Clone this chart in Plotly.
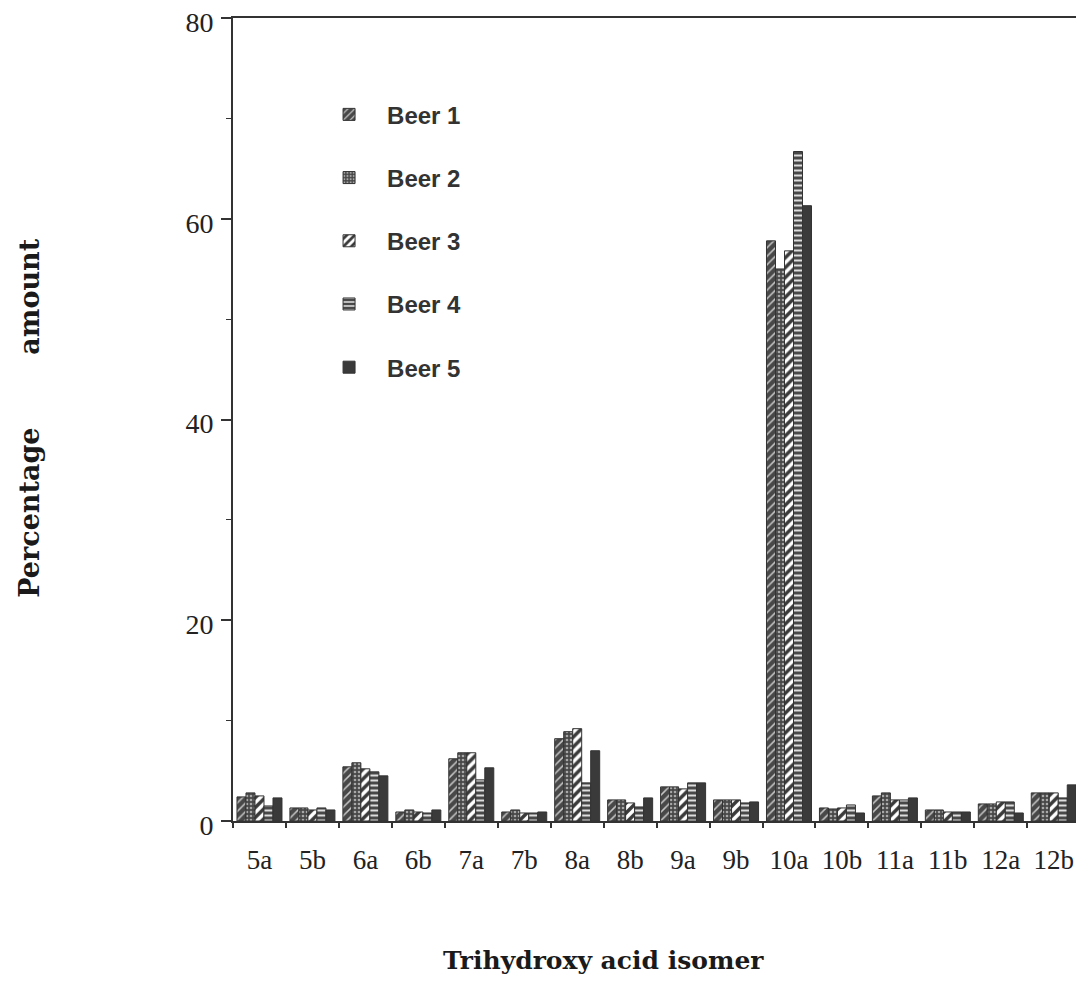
import plotly.graph_objects as go

categories = ["5a", "5b", "6a", "6b", "7a", "7b", "8a", "8b", "9a", "9b",
              "10a", "10b", "11a", "11b", "12a", "12b"]
series_names = ["Beer 1", "Beer 2", "Beer 3", "Beer 4", "Beer 5"]
beer1 = [2.4, 1.3, 5.4, 0.9, 6.2, 0.9, 8.2, 2.1, 3.4, 2.1, 57.8, 1.3, 2.5, 1.1, 1.7, 2.8]
beer2 = [2.8, 1.3, 5.8, 1.1, 6.8, 1.1, 8.9, 2.1, 3.4, 2.1, 55.0, 1.2, 2.8, 1.1, 1.7, 2.8]
beer3 = [2.5, 1.1, 5.2, 0.9, 6.8, 0.8, 9.2, 1.8, 3.2, 2.1, 56.8, 1.3, 2.1, 0.9, 1.9, 2.8]
beer4 = [1.5, 1.3, 4.9, 0.8, 4.1, 0.8, 3.8, 1.4, 3.8, 1.8, 66.7, 1.6, 2.1, 0.9, 1.9, 2.3]
beer5 = [2.3, 1.1, 4.5, 1.1, 5.3, 0.9, 7.0, 2.3, 3.8, 1.9, 61.3, 0.8, 2.3, 0.9, 0.8, 3.6]
series_values = [beer1, beer2, beer3, beer4, beer5]
y_ticks = [0, 20, 40, 60, 80]

patterns = [
    dict(shape="/", fgcolor="#c8c8c8", bgcolor="#484848", size=6, solidity=0.25, fillmode="replace"),
    dict(shape=".", fgcolor="#a8a8a8", bgcolor="#484848", size=4, solidity=0.35, fillmode="replace"),
    dict(shape="/", fgcolor="#3a3a3a", bgcolor="#ffffff", size=7, solidity=0.5, fillmode="replace"),
    dict(shape="-", fgcolor="#dddddd", bgcolor="#484848", size=5, solidity=0.4, fillmode="replace"),
    dict(shape="", fgcolor="#3a3a3a", bgcolor="#3a3a3a", size=5, solidity=0.5, fillmode="replace"),
]

fig = go.Figure()
for i, (name, vals) in enumerate(zip(series_names, series_values)):
    fig.add_trace(go.Bar(
        x=categories, y=vals, name=name, legendgroup=name,
        marker=dict(color="#3a3a3a", pattern=patterns[i],
                    line=dict(color="#333333", width=1)),
    ))

fig.update_layout(
    width=1076, height=986,
    paper_bgcolor="white", plot_bgcolor="white",
    margin=dict(l=233, r=0, t=18, b=165, autoexpand=False),
    barmode="group", bargap=0.15, bargroupgap=0,
    font=dict(family="Liberation Serif", color="#222222"),
    showlegend=True,
    legend=dict(x=0.0926, y=0.9075, xanchor="left", yanchor="top",
                font=dict(family="Liberation Sans", size=24, color="#333333", weight="bold"),
                tracegroupgap=29, itemwidth=66, bgcolor="rgba(0,0,0,0)"),
    xaxis=dict(type="category", range=[-0.5, 15.42], automargin=False,
               showline=True, linecolor="#333333", linewidth=2, mirror=True,
               ticks="outside", tickson="boundaries", ticklen=5, tickwidth=2, tickcolor="#333333",
               showgrid=False, zeroline=False, ticklabeloverflow="allow",
               tickfont=dict(family="Liberation Serif", size=27, color="#222222"),
               ticklabelstandoff=14),
    yaxis=dict(range=[0, 80], tickvals=y_ticks, automargin=False,
               showline=True, linecolor="#333333", linewidth=2,
               ticks="outside", ticklen=10, tickwidth=2, tickcolor="#333333",
               minor=dict(dtick=10, ticks="outside", ticklen=5, tickwidth=1, tickcolor="#333333"),
               showgrid=False, zeroline=False, ticklabeloverflow="allow",
               tickfont=dict(family="Liberation Serif", size=28, color="#222222"),
               ticklabelstandoff=2, ticklabelshift=4),
    annotations=[
        dict(text="Percentage\u2003\u2003\u00a0\u00a0amount", xref="paper", yref="paper",
             x=-0.241, y=0.502, xanchor="center", yanchor="middle", textangle=-90,
             showarrow=False,
             font=dict(family="DejaVu Serif", size=27, color="#1a1a1a", weight="bold")),
        dict(text="Trihydroxy acid isomer", xref="paper", yref="paper",
             x=0.44, y=-0.1735, xanchor="center", yanchor="middle",
             showarrow=False,
             font=dict(family="DejaVu Serif", size=25, color="#1a1a1a", weight="bold")),
    ],
)

fig.write_html("out.html", config={"displayModeBar": False},
               post_script="document.body.style.margin='0px';")
